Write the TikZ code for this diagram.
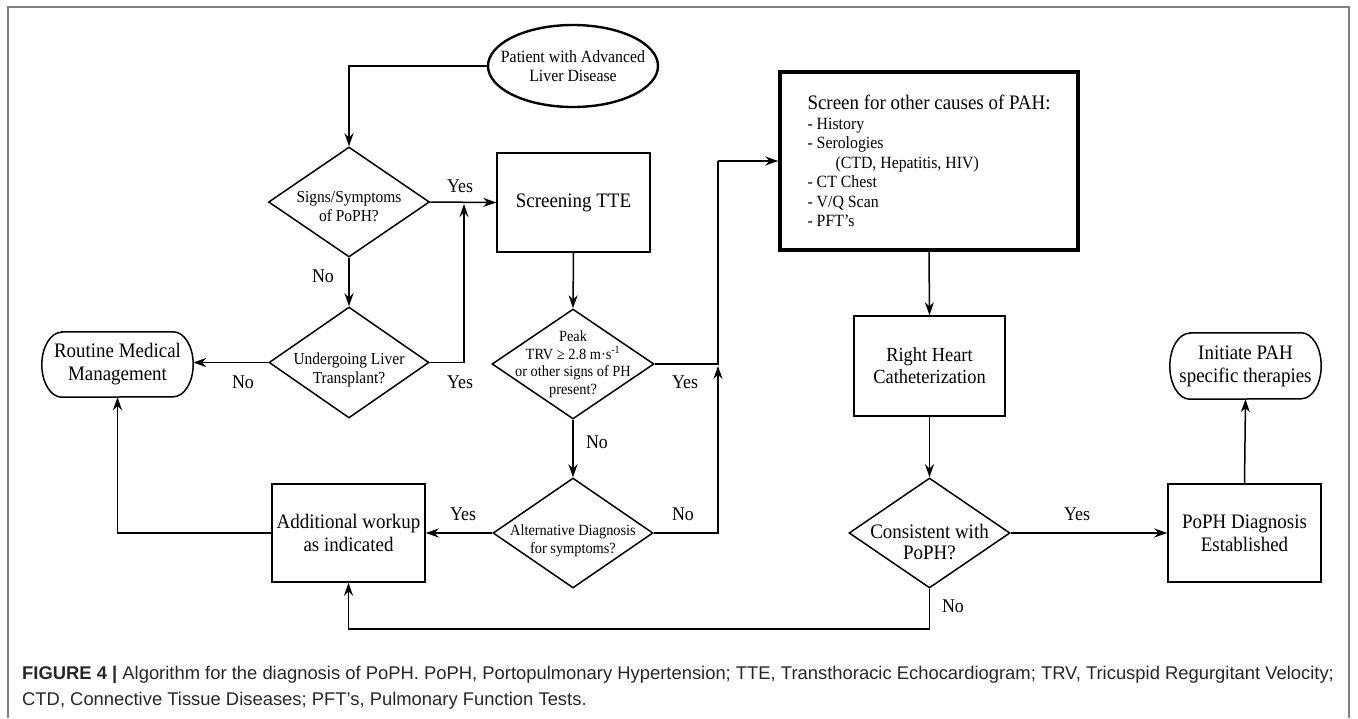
\documentclass[tikz,border=0pt]{standalone}
\usepackage{fontspec}
\setmainfont{Liberation Serif}[FakeStretch=0.92]
\newfontfamily\capfont{Liberation Sans}
\usetikzlibrary{arrows.meta,shapes.geometric}
\tikzset{
  base/.style={draw, line width=1.5pt, align=center, inner sep=0pt},
  boxnode/.style={base, rectangle, font=\fontsize{20.6}{23}\selectfont},
  roundnode/.style={align=center, inner sep=0pt, rectangle, font=\fontsize{20.6}{23}\selectfont},
  decision/.style={base, diamond, inner sep=-30pt},
  dtext/.style={align=center, inner sep=0pt, font=\fontsize{16.8}{19}\selectfont},
  lbl/.style={font=\fontsize{19.4}{20}\selectfont, inner sep=0pt},
  arr/.style={line width=1.5pt, -{Stealth[length=13pt, width=9pt]}},
  ln/.style={line width=1.5pt},
}
\newcommand\stadiumborder[2]{% node name, half height
  \draw[ln] ([xshift=20pt]#1.north west) -- ([xshift=-20pt]#1.north east)
    arc[start angle=90, end angle=-90, x radius=20pt, y radius=#2pt]
    -- ([xshift=20pt]#1.south west)
    arc[start angle=270, end angle=90, x radius=20pt, y radius=#2pt] -- cycle;}
\begin{document}
\begin{tikzpicture}[x=1pt, y=-1pt]
\useasboundingbox (0,0) rectangle (1358,718);
% outer frame (open at the bottom)
\draw[line width=1.5pt, black!50] (8,718) -- (8,7) -- (1349,7) -- (1349,718);

% nodes
\node[base, ellipse, line width=2.4pt, inner xsep=-20pt, inner ysep=-10pt,
      minimum width=170pt, minimum height=82pt, font=\fontsize{17.2}{19}\selectfont]
      (pat) at (573,66) {Patient with Advanced\\Liver Disease};
\node[decision, minimum width=161pt, minimum height=110pt,
      label={[dtext, yshift=-5pt]center:{Signs/Symptoms\\of PoPH?}}] (signs) at (349,202) {};
\node[boxnode, minimum width=153pt, minimum height=99pt] (scr) at (573.5,202.5) {Screening TTE};
\node[decision, minimum width=160pt, minimum height=111pt,
      label={[dtext, yshift=-7pt]center:{Undergoing Liver\\Transplant?}}] (und) at (349,362.5) {};
\node[roundnode, minimum width=151pt, minimum height=65pt] (rout) at (117.5,364.5) {Routine Medical\\Management};
\stadiumborder{rout}{32.5}
\node[decision, minimum width=162pt, minimum height=110pt,
      label={[dtext, font=\fontsize{15.6}{17.5}\selectfont]center:{Peak\\TRV ≥ 2.8 m·s\textsuperscript{-1}\\or other signs of PH\\present?}}]
      (peak) at (573,364) {};
\node[decision, minimum width=160pt, minimum height=110pt,
      label={[dtext, yshift=-8pt, font=\fontsize{15.6}{18}\selectfont]center:{Alternative Diagnosis\\for symptoms?}}]
      (alt) at (573,533) {};
\node[boxnode, minimum width=153pt, minimum height=98pt] (add) at (348.5,533) {Additional workup\\as indicated};
\node[base, rectangle, line width=3.5pt, minimum width=298pt, minimum height=178pt,
      align=left, font=\fontsize{17.2}{19.5}\selectfont]
      (oth) at (929,161) {{\fontsize{20.6}{21}\selectfont Screen for other causes of PAH:}\\
      - History\\- Serologies\\\hspace*{28pt}(CTD, Hepatitis, HIV)\\- CT Chest\\- V/Q Scan\\- PFT’s};
\node[boxnode, minimum width=151pt, minimum height=100pt, font=\fontsize{20}{22}\selectfont] (rhc) at (929.5,366) {Right Heart\\Catheterization};
\node[decision, minimum width=161pt, minimum height=110pt,
      label={[dtext, yshift=-9pt, font=\fontsize{20.6}{21}\selectfont]center:{Consistent with\\PoPH?}}] (cons) at (929.5,533) {};
\node[boxnode, minimum width=153pt, minimum height=98pt] (dx) at (1244.5,533) {PoPH Diagnosis\\Established};
\node[roundnode, minimum width=151pt, minimum height=66pt] (init) at (1245.5,366) {Initiate PAH\\specific therapies};
\stadiumborder{init}{33}

% junction coordinates
\coordinate (j1) at (464,204);
\coordinate (j2) at (718,161);
\coordinate (j3) at (718,366);
\coordinate (j4) at (929.5,629);

% connectors
\draw[arr] (pat.west) -| (signs.north);
\draw[arr] (signs.east) -- (scr.west);
\draw[arr] (signs.south) -- (und.north);
\draw[arr] (und.west) -- (rout.east |- und.west);
\draw[arr] (und.east) -| (j1);
\draw[arr] (scr.south) -- (peak.north);
\draw[ln] (peak.east) -| (j2);
\draw[arr] (j2) -- (oth.west);
\draw[arr] (peak.south) -- (alt.north);
\draw[arr] (alt.east) -| (j3);
\draw[arr] (alt.west) -- (add.east);
\draw[arr] (add.west) -| (rout.south);
\draw[arr] (oth.south) -- (rhc.north);
\draw[arr] (rhc.south) -- (cons.north);
\draw[arr] (cons.east) -- (dx.west);
\draw[arr] (dx.north) -- (init.south);
\draw[ln] (cons.south) -- (j4);
\draw[arr] (j4) -| (add.south);

% branch labels
\node[lbl] (l1) at (460,186) {Yes};
\node[lbl] (l2) at (323,276) {No};
\node[lbl] (l3) at (243,382) {No};
\node[lbl] (l4) at (460,382) {Yes};
\node[lbl] (l5) at (685,382) {Yes};
\node[lbl] (l6) at (597,442) {No};
\node[lbl] (l7) at (463,514) {Yes};
\node[lbl] (l8) at (683,514) {No};
\node[lbl] (l9) at (1077,514) {Yes};
\node[lbl] (l10) at (953,606) {No};

% caption
\node[anchor=base west, inner sep=0pt, text=black!85, font=\capfont\fontsize{18.4}{21}\selectfont] (cap1) at (22,679)
  {\textbf{FIGURE 4 |} Algorithm for the diagnosis of PoPH. PoPH, Portopulmonary Hypertension; TTE, Transthoracic Echocardiogram; TRV, Tricuspid Regurgitant Velocity;};
\node[anchor=base west, inner sep=0pt, text=black!85, font=\capfont\fontsize{18.4}{21}\selectfont] (cap2) at (22,705)
  {CTD, Connective Tissue Diseases; PFT’s, Pulmonary Function Tests.};
\end{tikzpicture}
\end{document}
